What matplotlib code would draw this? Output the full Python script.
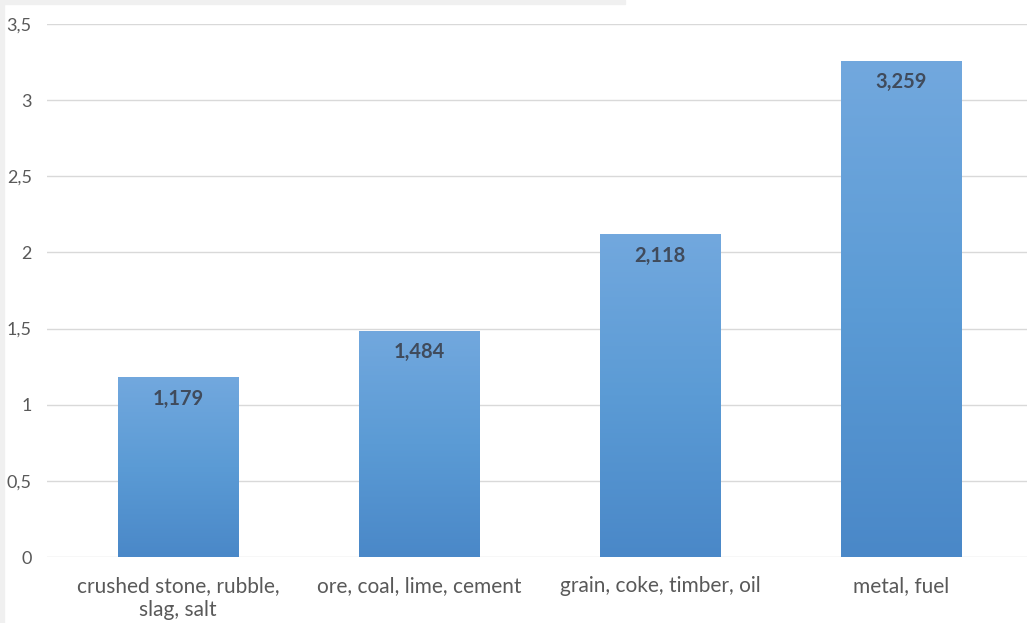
import numpy as np
import matplotlib.pyplot as plt
from matplotlib.patches import Rectangle
from matplotlib.colors import LinearSegmentedColormap

categories = ["crushed stone, rubble,\nslag, salt", "ore, coal, lime, cement",
              "grain, coke, timber, oil", "metal, fuel"]
values = [1.179, 1.484, 2.118, 3.259]
labels = ["1,179", "1,484", "2,118", "3,259"]
yticks = [0, 0.5, 1, 1.5, 2, 2.5, 3, 3.5]

plt.rcParams['font.family'] = ['Lato', 'DejaVu Sans']

fig = plt.figure(figsize=(10.27, 6.23), dpi=100)
W, H = 1027, 623

# light frame of the screenshot
fig.patches.append(Rectangle((0, 1 - 4 / H), 625 / W, 4 / H, transform=fig.transFigure,
                             color='#f0f0f0', zorder=0))
fig.patches.append(Rectangle((0, 0), 4 / W, 1, transform=fig.transFigure,
                             color='#f0f0f0', zorder=0))

ax = fig.add_axes([47 / W, 1 - 557 / H, (1027 - 47) / W, (557 - 24) / H])

x = np.arange(len(values))
bars = ax.bar(x, values, width=0.5, color='none', zorder=2)

cmap = LinearSegmentedColormap.from_list('g', ['#4a88c8', '#5b9bd5', '#72a8de'])
grad = np.linspace(0, 1, 256).reshape(-1, 1)
for b in bars:
    x0, y0 = b.get_x(), b.get_y()
    w, h = b.get_width(), b.get_height()
    im = ax.imshow(grad, cmap=cmap, origin='lower', aspect='auto',
                   extent=[x0, x0 + w, y0, y0 + h], zorder=2)
    im.set_clip_path(b)

ax.set_xlim(-0.544, 3.523)
ax.set_ylim(0, 3.5)

for xi, v, lab in zip(x, values, labels):
    ax.text(xi, v - 0.14, lab, ha='center', va='center', fontsize=14.5,
            fontweight='bold', color='#404b5c', zorder=3)

ax.set_yticks(yticks)
ax.set_yticklabels([f"{t:g}".replace('.', ',') for t in yticks])
ax.set_xticks(x)
ax.set_xticklabels(categories)
ax.yaxis.grid(True, color='#d9d9d9', linewidth=1)
ax.set_axisbelow(True)
for s in ax.spines.values():
    s.set_visible(False)
ax.tick_params(axis='both', length=0, colors='#595959')
ax.tick_params(axis='y', pad=11, labelsize=13)
ax.tick_params(axis='x', pad=14, labelsize=15)
for t in ax.get_xticklabels():
    t.set_linespacing(1.25)

fig.savefig('out.png', dpi=100)
